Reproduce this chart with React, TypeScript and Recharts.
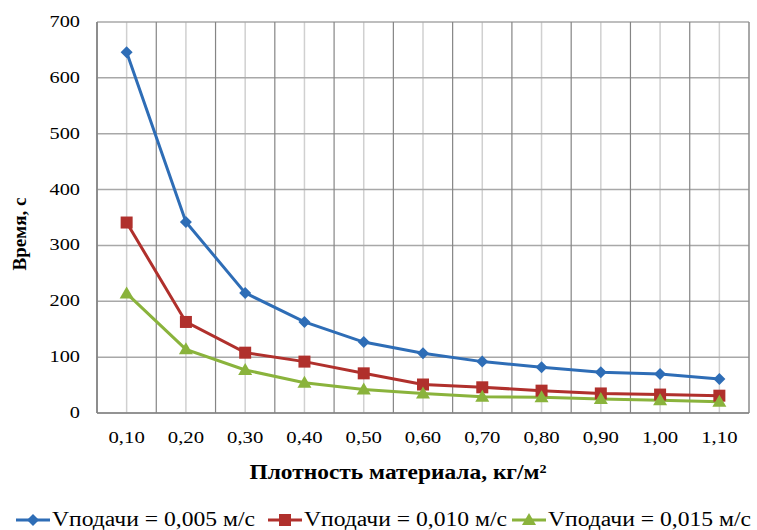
import React from 'react';
import { LineChart, Line, XAxis, YAxis, CartesianGrid, Legend, Label } from 'recharts';

const categories = ['0,10', '0,20', '0,30', '0,40', '0,50', '0,60', '0,70', '0,80', '0,90', '1,00', '1,10'];
const v005 = [646, 342, 215, 163, 127, 107, 92, 82, 73, 70, 61];
const v010 = [341, 163, 108, 92, 71, 51, 46, 40, 35, 33, 31];
const v015 = [214, 114, 77, 54, 42, 35, 29, 28, 25, 23, 20];
const yTicks = [0, 100, 200, 300, 400, 500, 600, 700];
const seriesNames = ['Vподачи = 0,005 м/с', 'Vподачи = 0,010 м/с', 'Vподачи = 0,015 м/с'];

const data = categories.map((c, i) => ({ cat: c, a: v005[i], b: v010[i], c: v015[i] }));

const FONT = '"Liberation Serif", "Times New Roman", serif';
const BLUE = '#2E6DB6';
const RED = '#B0302C';
const GREEN = '#8AB33C';

const Diamond = (props: any) => {
  const { cx, cy, fill } = props;
  if (cx == null || cy == null) return null;
  const r = 6;
  return <polygon points={`${cx},${cy - r} ${cx + r},${cy} ${cx},${cy + r} ${cx - r},${cy}`} fill={fill} />;
};
const Square = (props: any) => {
  const { cx, cy, fill } = props;
  if (cx == null || cy == null) return null;
  const r = 6;
  return <rect x={cx - r} y={cy - r} width={2 * r} height={2 * r} fill={fill} />;
};
const Triangle = (props: any) => {
  const { cx, cy, fill } = props;
  if (cx == null || cy == null) return null;
  return <polygon points={`${cx},${cy - 7} ${cx + 7},${cy + 5} ${cx - 7},${cy + 5}`} fill={fill} />;
};

const XTick = (props: any) => {
  const { x, y, payload } = props;
  return (
    <g transform={`translate(${x},${y}) scale(1.22,1)`}>
      <text x={0} y={30} textAnchor="middle" fontSize={17} fontFamily={FONT} fill="#000">{payload.value}</text>
    </g>
  );
};
const YTick = (props: any) => {
  const { x, y, payload } = props;
  return (
    <g transform={`translate(${x - 17},${y}) scale(1.27,1)`}>
      <text x={0} y={5} textAnchor="end" fontSize={16} fontFamily={FONT} fill="#000">{payload.value}</text>
    </g>
  );
};

const legendItems = [
  { name: seriesNames[0], color: BLUE, shape: 'diamond', x: 16 },
  { name: seriesNames[1], color: RED, shape: 'square', x: 268 },
  { name: seriesNames[2], color: GREEN, shape: 'triangle', x: 512 },
];

const renderLegend = () => (
  <svg width={757} height={30} style={{ overflow: 'visible' }}>
    {legendItems.map((it) => {
      const cx = it.x + 17;
      const cy = 20;
      let marker: any = null;
      if (it.shape === 'diamond') marker = <Diamond cx={cx} cy={cy} fill={it.color} />;
      else if (it.shape === 'square') marker = <Square cx={cx} cy={cy} fill={it.color} />;
      else marker = <Triangle cx={cx} cy={cy} fill={it.color} />;
      return (
        <g key={it.name}>
          <line x1={it.x} y1={cy} x2={it.x + 34} y2={cy} stroke={it.color} strokeWidth={3} />
          {marker}
          <text x={it.x + 36} y={26} fontSize={20} fontFamily={FONT} fill="#000" textLength={203} lengthAdjust="spacingAndGlyphs">{it.name}</text>
        </g>
      );
    })}
  </svg>
);

const boundaryGen = (args: any) => {
  const { offset } = args;
  const n = categories.length;
  const arr: number[] = [];
  for (let i = 0; i <= n; i++) arr.push(offset.left + (i * offset.width) / n);
  return arr;
};

export default function App() {
  return (
    <div style={{ position: 'absolute', left: 0, top: 0, width: 757, height: 530, background: '#fff', overflow: 'hidden' }}>
      <LineChart width={757} height={530} data={data} margin={{ top: 22, right: 8, left: 0, bottom: 0 }}>
        <CartesianGrid horizontal={false} vertical={true} stroke="#d0d0d0" strokeWidth={1.5} />
        <CartesianGrid horizontal={true} vertical={false} stroke="#a8a8a8" strokeWidth={1.5} />
        <CartesianGrid horizontal={false} vertical={true} verticalCoordinatesGenerator={boundaryGen} stroke="#858585" strokeWidth={1.2} />
        <XAxis
          dataKey="cat"
          scale="band"
          height={117}
          tickLine={false}
          tickSize={0}
          tickMargin={0}
          axisLine={{ stroke: '#858585', strokeWidth: 1.5 }}
          tick={<XTick />}
          interval={0}
        >
          <Label
            content={(p: any) => {
              const vb = p.viewBox || { x: 97, y: 413, width: 652 };
              return (
                <text x={vb.x + vb.width / 2 - 25} y={vb.y + 66} textAnchor="middle" fontSize={21} fontWeight="bold" fontFamily={FONT} fill="#000" textLength={297} lengthAdjust="spacingAndGlyphs">
                  Плотность материала, кг/м²
                </text>
              );
            }}
          />
        </XAxis>
        <YAxis
          width={97}
          domain={[0, 700]}
          ticks={yTicks}
          tickLine={false}
          tickSize={0}
          tickMargin={0}
          axisLine={{ stroke: '#858585', strokeWidth: 1.5 }}
          tick={<YTick />}
          interval={0}
        >
          <Label
            content={() => (
              <text x={26} y={234} transform="rotate(-90, 26, 234)" textAnchor="middle" fontSize={19} fontWeight="bold" fontFamily={FONT} fill="#000">
                Время, с
              </text>
            )}
          />
        </YAxis>
        <Legend
          layout="horizontal"
          verticalAlign="middle"
          align="center"
          content={renderLegend}
          wrapperStyle={{ top: 500, left: 0, width: 757, height: 30 }}
        />
        <Line dataKey="a" name={seriesNames[0]} stroke={BLUE} strokeWidth={3} dot={<Diamond fill={BLUE} />} activeDot={false} isAnimationActive={false} />
        <Line dataKey="b" name={seriesNames[1]} stroke={RED} strokeWidth={3} dot={<Square fill={RED} />} activeDot={false} isAnimationActive={false} />
        <Line dataKey="c" name={seriesNames[2]} stroke={GREEN} strokeWidth={3} dot={<Triangle fill={GREEN} />} activeDot={false} isAnimationActive={false} />
      </LineChart>
    </div>
  );
}
